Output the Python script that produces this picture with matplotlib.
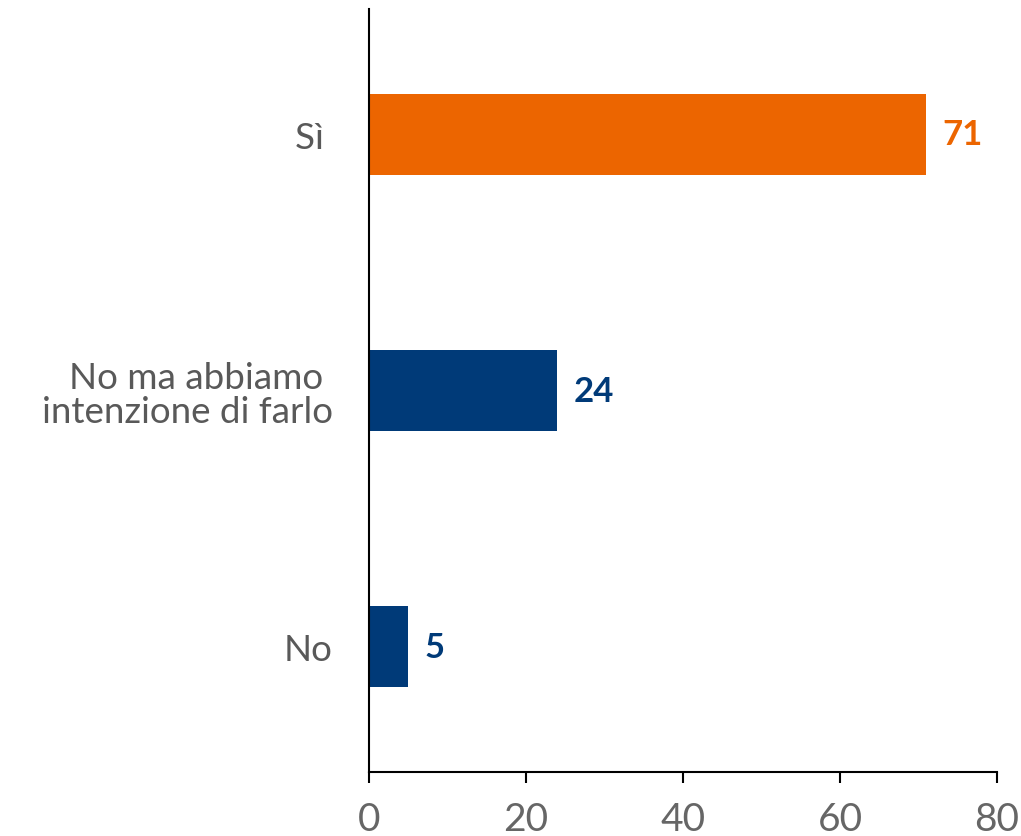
import matplotlib
matplotlib.use("Agg")
import matplotlib.pyplot as plt

categories = ["No", "No ma abbiamo \nintenzione di farlo", "Sì "]
values = [5, 24, 71]
bar_colors = ["#003A78", "#003A78", "#EC6500"]
x_ticks = [0, 20, 40, 60, 80]

plt.rcParams["font.family"] = ["Lato", "DejaVu Sans"]

fig = plt.figure(figsize=(10.21, 8.37), dpi=100)
ax = fig.add_axes([0.3614, 0.0765, 0.6151, 0.9115])

pos = range(len(categories))
ax.barh(pos, values, height=0.315, color=bar_colors)

for p, v, c in zip(pos, values, bar_colors):
    ax.text(v + 2.1, p, str(v), va="center", ha="left",
            fontsize=25, fontweight="bold", color=c)

ax.set_xlim(0, 80)
ax.set_ylim(-0.49, 2.49)
ax.set_xticks(x_ticks)
ax.set_yticks(list(pos))
ax.set_yticklabels(categories, fontsize=26.5, color="#595959",
                   linespacing=1.05)

ax.tick_params(axis="x", direction="out", length=8, width=1.5,
               labelsize=28, labelcolor="#666666", pad=13)
ax.tick_params(axis="y", length=0, pad=26)

for side in ["top", "right"]:
    ax.spines[side].set_visible(False)
for side in ["left", "bottom"]:
    ax.spines[side].set_linewidth(1.5)
    ax.spines[side].set_color("black")

fig.savefig("out.png", dpi=100)
